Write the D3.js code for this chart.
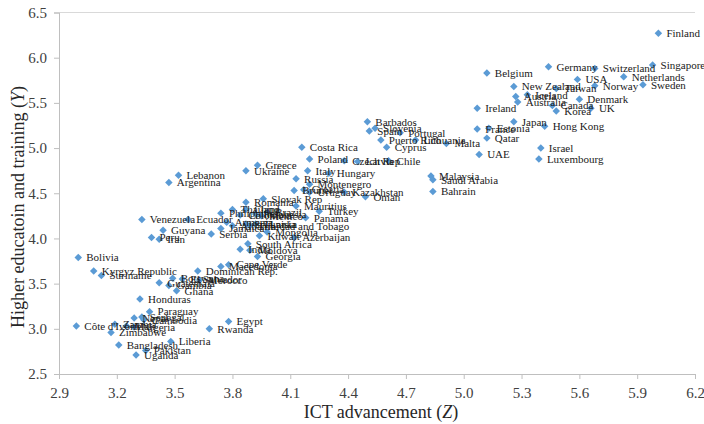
<!DOCTYPE html>
<html>
<head>
<meta charset="utf-8">
<script src="https://cdn.jsdelivr.net/npm/d3@7"></script>
<style>
  body { margin: 0; background: #fff; }
  text { font-family: "Liberation Serif", "Times New Roman", serif; }
</style>
</head>
<body>
<div id="vis"></div>
<script>
// countries with ICT advancement (Z) and higher education and training (Y) scores
var countries = ["Finland","Singapore","Germany","Switzerland","Netherlands","USA","Sweden","Belgium",
  "New Zealand","Taiwan","Norway","Iceland","Austria","Australia","Denmark","Canada","Korea","UK",
  "Ireland","Japan","Hong Kong","France","Estonia","Qatar","Israel","Luxembourg","UAE","Malaysia",
  "Saudi Arabia","Bahrain","Oman","Kazakhstan","Barbados","Slovenia","Spain","Portugal","Puerto Rico",
  "Cyprus","Lithuania","Malta","Czech Rep","Latvia","Chile","Costa Rica","Poland","Italy","Hungary",
  "Greece","Ukraine","Russia","Montenegro","Brunei","Croatia","Uruguay","Slovak Rep","Romania",
  "Mauritius","Turkey","Panama","Trinidad and Tobago","Mongolia","Kuwait","Azerbaijan","South Africa",
  "Moldova","India","Georgia","Macedonia","Cape Verde","Dominican Rep.","Guatemala","Gambia","Botswana",
  "El Salvador","Ghana","Morocco","Venezuela","Ecuador","Guyana","Peru","Iran","Bolivia",
  "Kyrgyz Republic","Suriname","Honduras","Paraguay","Nepal","Senegal","Cambodia","Mali","Nigeria",
  "Zambia","Zimbabwe","Bangladesh","Pakistan","Uganda","Liberia","Côte d'Ivoire","Rwanda","Egypt",
  "Lebanon","Argentina","Philippines","Thailand","China","Colombia","Indonesia","Mexico","Brazil",
  "Armenia","Albania","Sri Lanka","Jamaica","Serbia","Tunisia"];

var ictScores = [6.01,5.98,5.44,5.68,5.83,5.59,5.93,5.12,
  5.26,5.48,5.68,5.33,5.27,5.28,5.60,5.46,5.48,5.66,
  5.07,5.26,5.42,5.07,5.13,5.12,5.40,5.39,5.08,4.83,
  4.84,4.84,4.49,4.38,4.50,4.54,4.51,4.67,4.57,
  4.60,4.75,4.91,4.38,4.45,4.61,4.16,4.20,4.19,4.30,
  3.93,3.87,4.13,4.20,4.12,4.17,4.20,3.96,3.87,
  4.13,4.25,4.18,3.89,3.98,3.94,4.12,3.88,
  3.89,3.84,3.93,3.74,3.78,3.62,3.42,3.47,3.49,
  3.54,3.51,3.63,3.33,3.57,3.44,3.38,3.42,3.00,
  3.08,3.12,3.32,3.37,3.29,3.33,3.34,3.25,3.29,
  3.19,3.17,3.21,3.35,3.30,3.48,2.99,3.68,3.78,
  3.52,3.47,3.74,3.80,3.87,3.84,3.92,3.95,3.98,
  3.77,3.80,3.87,3.74,3.69,3.92];

var eduScores = [6.27,5.92,5.90,5.88,5.79,5.76,5.70,5.83,
  5.68,5.66,5.69,5.59,5.57,5.51,5.54,5.47,5.41,5.44,
  5.44,5.29,5.24,5.21,5.22,5.11,5.00,4.88,4.93,4.69,
  4.65,4.52,4.46,4.51,5.29,5.22,5.19,5.17,5.09,
  5.01,5.09,5.05,4.86,4.85,4.86,5.01,4.88,4.75,4.72,
  4.81,4.75,4.66,4.60,4.53,4.54,4.51,4.44,4.40,
  4.36,4.30,4.23,4.14,4.07,4.03,4.01,3.94,
  3.87,3.88,3.80,3.69,3.71,3.64,3.51,3.48,3.56,
  3.55,3.42,3.54,4.21,4.21,4.09,4.01,3.99,3.79,
  3.64,3.59,3.33,3.19,3.12,3.13,3.10,3.03,3.02,
  3.05,2.96,2.82,2.76,2.71,2.86,3.03,3.00,3.08,
  4.70,4.62,4.28,4.32,4.32,4.26,4.27,4.25,4.29,
  4.18,4.14,4.16,4.11,4.05,4.16];

var xTicks = [2.9,3.2,3.5,3.8,4.1,4.4,4.7,5.0,5.3,5.6,5.9,6.2];
var yTicks = [2.5,3.0,3.5,4.0,4.5,5.0,5.5,6.0,6.5];

var data = countries.map((c,i) => ({name:c, x:ictScores[i], y:eduScores[i]}));

var w = 704;
var h = 424;
var mLeft = 59, mRight = 695, mTop = 12.5, mBottom = 374;

var chart = d3.select("#vis")
              .append("svg")
              .attr("width", w)
              .attr("height", h)
              .style("background-color", "#ffffff")

const xScale = d3.scaleLinear()
            .domain([2.9,6.2])
            .range([mLeft,mRight])
const yScale = d3.scaleLinear()
            .domain([2.5,6.5])
            .range([mBottom,mTop])

// top border line
chart.append("line")
     .attr("x1", mLeft).attr("x2", mRight)
     .attr("y1", yScale(6.5)).attr("y2", yScale(6.5))
     .attr("stroke", "#d9d9d9")

const xAxis = chart.append("g")
                   .attr("transform",`translate(0,${mBottom})`)
                   .call(d3.axisBottom(xScale).tickValues(xTicks).tickFormat(d3.format(".1f")).tickSizeOuter(0).tickSize(5).tickPadding(8))
const yAxis = chart.append("g")
                   .attr("transform",`translate(${mLeft},0)`)
                   .call(d3.axisLeft(yScale).tickValues(yTicks).tickFormat(d3.format(".1f")).tickSizeOuter(0).tickSize(5).tickPadding(7))

chart.selectAll(".domain, .tick line").attr("stroke", "#bfbfbf")
chart.selectAll(".tick text")
     .attr("font-family", "Liberation Serif")
     .attr("font-size", 15)
     .attr("fill", "#404040")

// axis titles
var xt = chart.append("text")
     .attr("x", (mLeft+mRight)/2 + 4)
     .attr("y", 418)
     .attr("text-anchor", "middle")
     .style("font-size", "18px")
     .attr("fill", "#262626")
xt.append("tspan").text("ICT advancement (")
xt.append("tspan").style("font-style","italic").text("Z")
xt.append("tspan").text(")")

var yt = chart.append("text")
     .attr("transform", "translate(24,207) rotate(-90)")
     .attr("text-anchor", "middle")
     .style("font-size", "18px")
     .attr("fill", "#262626")
yt.append("tspan").text("Higher educatoin and training (")
yt.append("tspan").style("font-style","italic").text("Y")
yt.append("tspan").text(")")

// markers
chart.selectAll(".pt")
     .data(data)
     .enter()
     .append("path")
     .attr("class","pt")
     .attr("d", d3.symbol(d3.symbolSquare, 28))
     .attr("transform", d => `translate(${xScale(d.x)},${yScale(d.y)}) rotate(45)`)
     .attr("fill", "#5b9bd5")

// data labels
chart.selectAll(".lbl")
     .data(data)
     .enter()
     .append("text")
     .attr("class","lbl")
     .attr("x", d => xScale(d.x) + 8)
     .attr("y", d => yScale(d.y))
     .attr("dy", "0.35em")
     .style("font-size", "11px")
     .attr("fill", "#1a1a1a")
     .text(d => d.name)
</script>
</body>
</html>
